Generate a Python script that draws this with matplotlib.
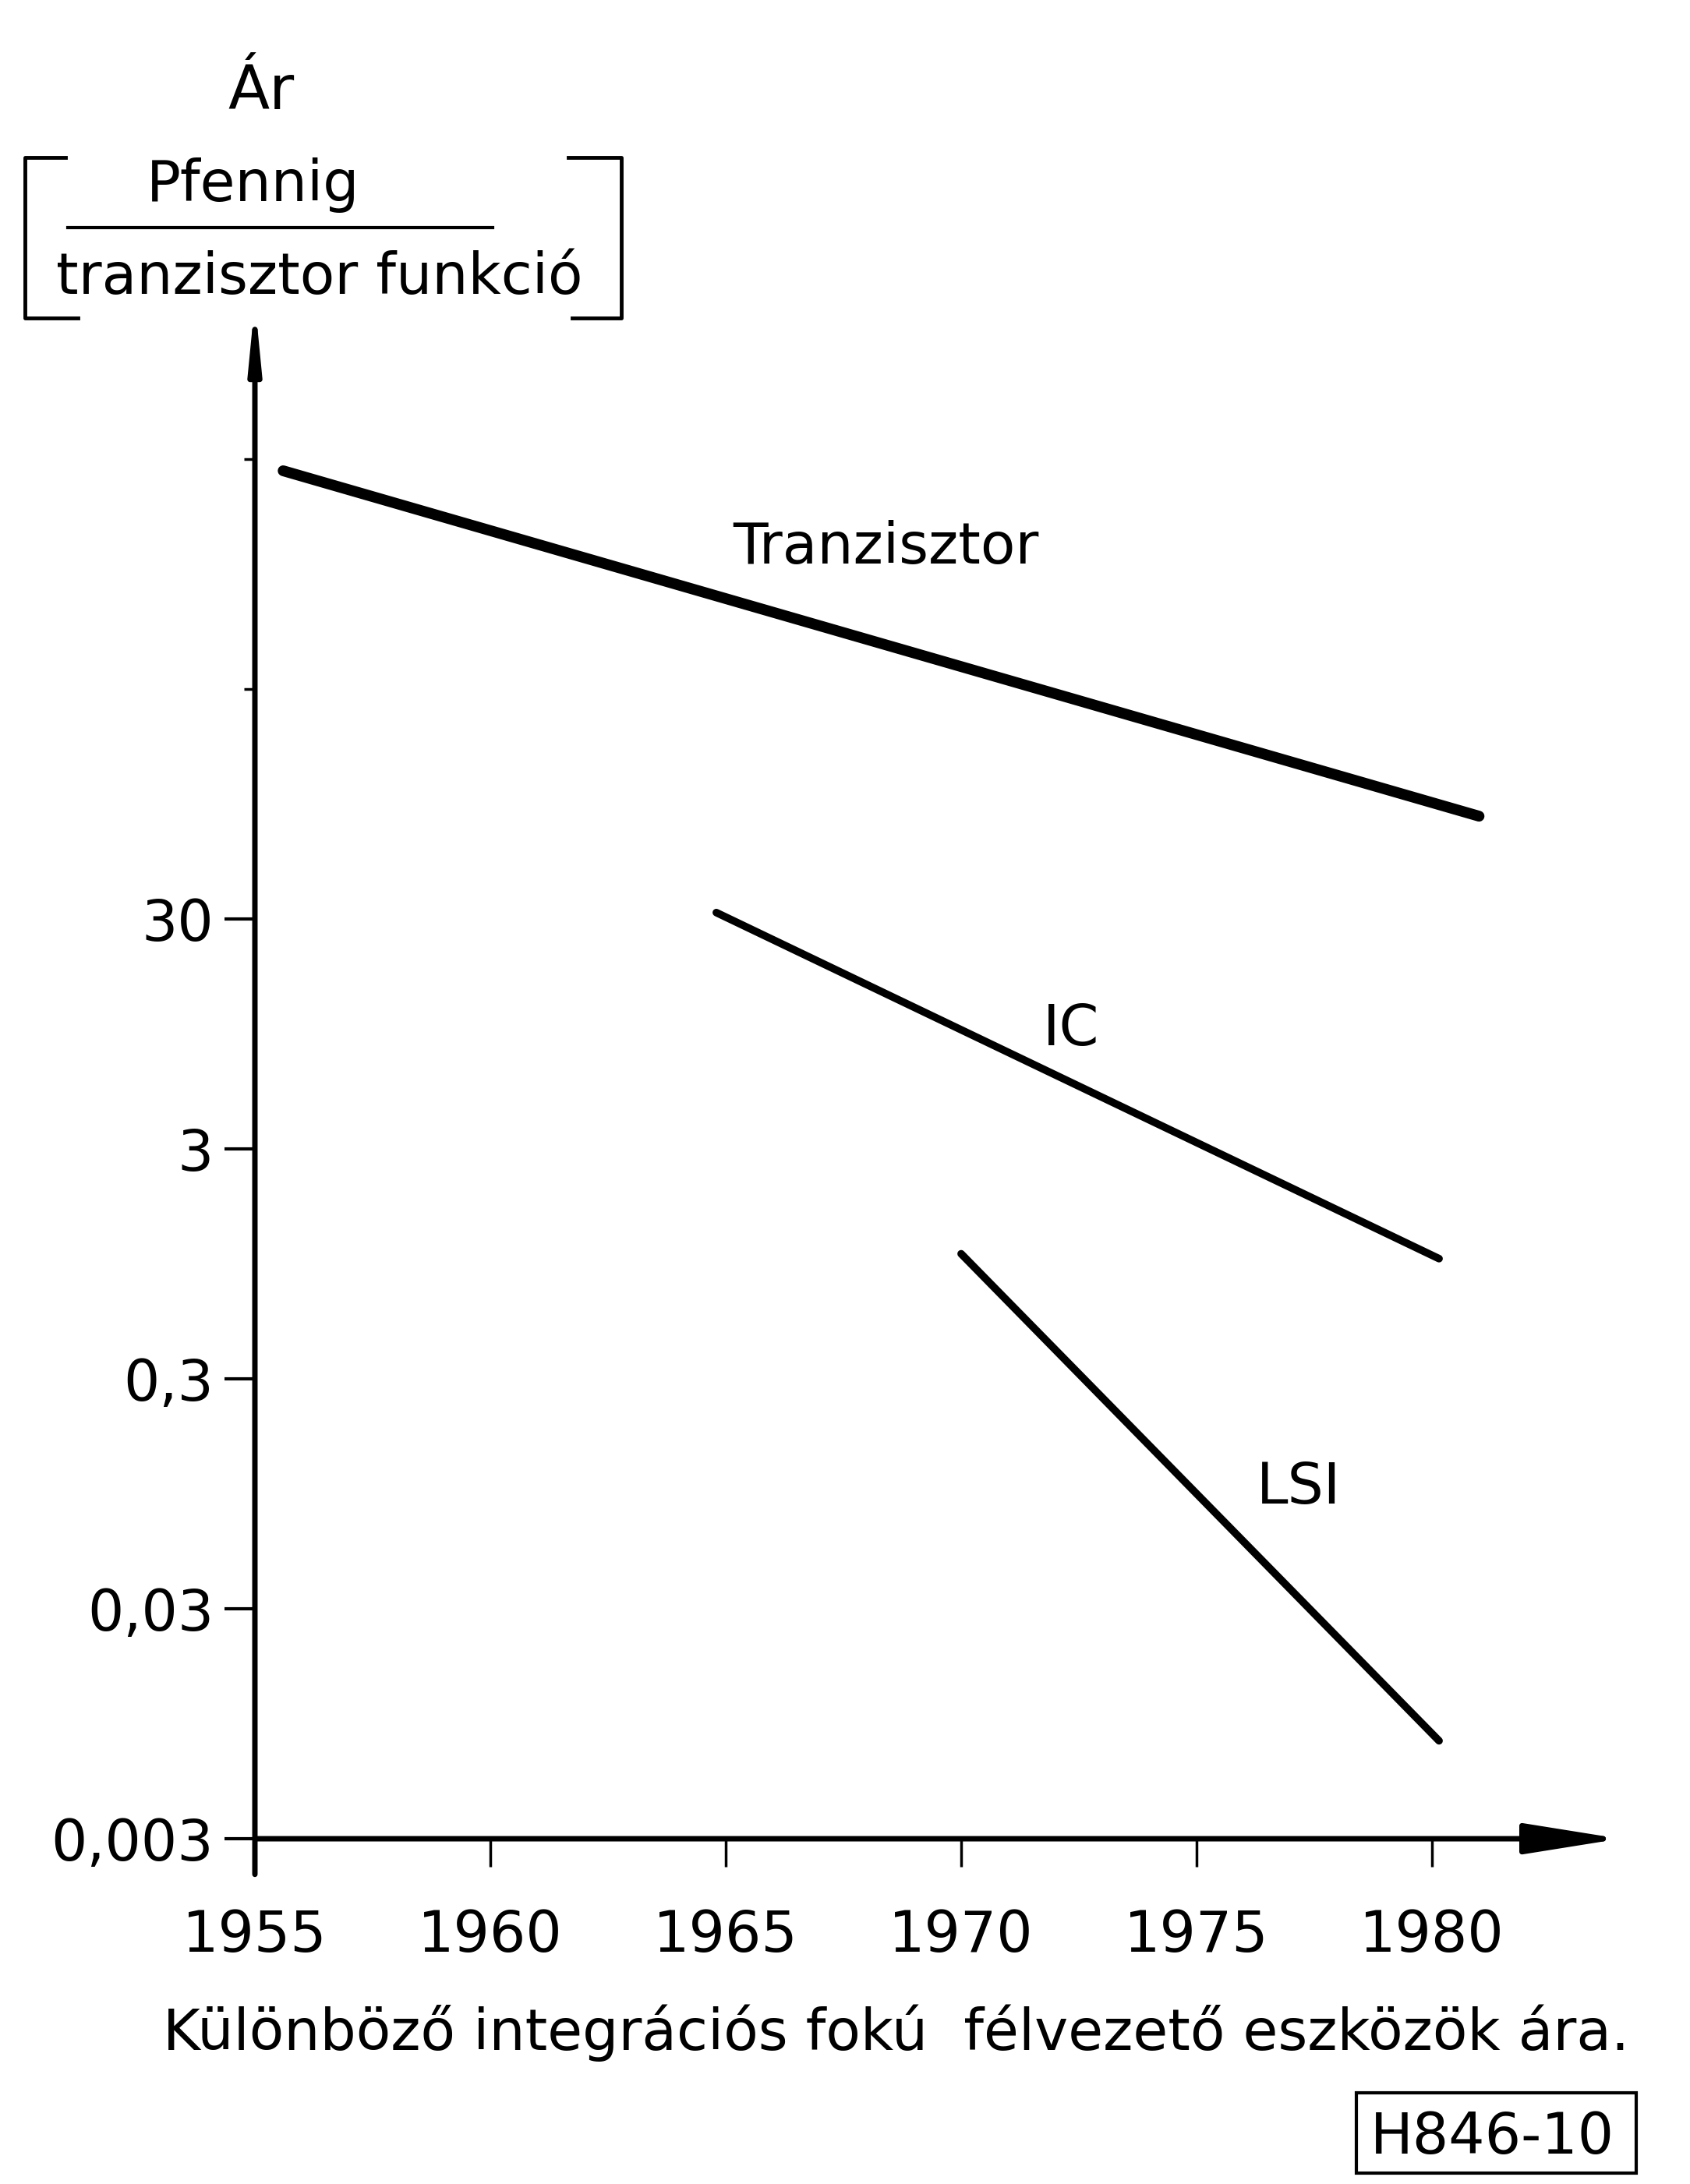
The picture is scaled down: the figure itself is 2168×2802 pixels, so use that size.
import matplotlib
matplotlib.use("Agg")
import matplotlib.pyplot as plt
from matplotlib.lines import Line2D
from matplotlib.patches import Rectangle
from matplotlib.ticker import FixedLocator, NullFormatter

# price per transistor function (Pfennig), straight lines on a log scale
tranzisztor_years = [1955.6, 1981.0]
tranzisztor_price = [2670, 84]
ic_years = [1964.8, 1980.15]
ic_price = [32, 1.0]
lsi_years = [1970.0, 1980.15]
lsi_price = [1.05, 0.008]

year_ticks = [1955, 1960, 1965, 1970, 1975, 1980]
price_ticks = [0.003, 0.03, 0.3, 3, 30]
price_tick_labels = ["0,003", "0,03", "0,3", "3", "30"]
extra_price_ticks = [300, 3000]

W, H = 2168, 2802
FONT = 52.5

plt.rcParams["font.family"] = ["DejaVu Sans"]

fig = plt.figure(figsize=(W / 100, H / 100), dpi=100)
fig.patch.set_facecolor("white")


def fx(px):
    return px / W


def fy(py):
    return 1 - py / H


ax = fig.add_axes([fx(327), fy(2411), 1812 / W, (2411 - 346) / H])
ax.set_yscale("log")
ax.set_xlim(1955, 1985)
ax.set_ylim(0.002, 20000)
ax.patch.set_alpha(0)

for name in ["top", "right", "left", "bottom"]:
    ax.spines[name].set_visible(False)
ax.spines["bottom"].set_position(("data", 0.003))

# axes drawn as arrows
ax.annotate("", xy=(1955, 14500), xytext=(1955, 0.0021),
            arrowprops=dict(arrowstyle="-|>,head_length=4.6,head_width=0.45",
                            mutation_scale=10, lw=5, color="black",
                            shrinkA=0, shrinkB=0),
            annotation_clip=False)
ax.annotate("", xy=(1984.0, 0.003), xytext=(1955, 0.003),
            arrowprops=dict(arrowstyle="-|>,head_length=7.5,head_width=1.2",
                            mutation_scale=10, lw=5, color="black",
                            shrinkA=0, shrinkB=0),
            annotation_clip=False)

ax.set_xticks(year_ticks)
ax.set_xticklabels([str(y) for y in year_ticks])
ax.tick_params(axis="x", direction="out", length=26, width=2.5,
               pad=38, labelsize=FONT)

ax.set_yticks(price_ticks)
ax.set_yticklabels(price_tick_labels)
ax.yaxis.set_minor_locator(FixedLocator(extra_price_ticks))
ax.yaxis.set_minor_formatter(NullFormatter())
ax.tick_params(axis="y", which="major", direction="out", length=28,
               width=3, pad=10, labelsize=FONT)
ax.tick_params(axis="y", which="minor", direction="out", length=10,
               width=2.5)

ax.plot(tranzisztor_years, tranzisztor_price, color="black", lw=10,
        solid_capstyle="round")
ax.plot(ic_years, ic_price, color="black", lw=7, solid_capstyle="round")
ax.plot(lsi_years, lsi_price, color="black", lw=7, solid_capstyle="round")

ax.text(1968.4, 1055, "Tranzisztor", fontsize=FONT, ha="center", va="baseline")
ax.text(1972.33, 8.5, "IC", fontsize=FONT, ha="center", va="baseline")
ax.text(1977.17, 0.086, "LSI", fontsize=FONT, ha="center", va="baseline")

# unit label above the y axis
fig.text(fx(335), fy(140), "Ár", fontsize=56, ha="center", va="baseline")
fig.text(fx(325), fy(258), "Pfennig", fontsize=FONT, ha="center", va="baseline")
fig.text(fx(410), fy(377), "tranzisztor funkció", fontsize=FONT,
         ha="center", va="baseline")
fig.add_artist(Line2D([fx(87), fx(632)], [fy(292), fy(292)], color="black",
                      lw=3, transform=fig.transFigure))
fig.add_artist(Line2D([fx(84), fx(32), fx(32), fx(100)],
                      [fy(202), fy(202), fy(408), fy(408)], color="black",
                      lw=3.5, transform=fig.transFigure))
fig.add_artist(Line2D([fx(729), fx(797), fx(797), fx(734)],
                      [fy(202), fy(202), fy(408), fy(408)], color="black",
                      lw=3.5, transform=fig.transFigure))

fig.text(fx(1150), fy(2630), "Különböző integrációs fokú  félvezető eszközök ára.",
         fontsize=FONT, ha="center", va="baseline")

fig.text(fx(1914), fy(2763), "H846-10", fontsize=FONT, ha="center", va="baseline")
fig.add_artist(Rectangle((fx(1740), fy(2788)), fx(2099) - fx(1740),
                         fy(2685) - fy(2788), fill=False, lw=3,
                         edgecolor="black", transform=fig.transFigure))

fig.savefig("out.png", dpi=100, facecolor="white")
